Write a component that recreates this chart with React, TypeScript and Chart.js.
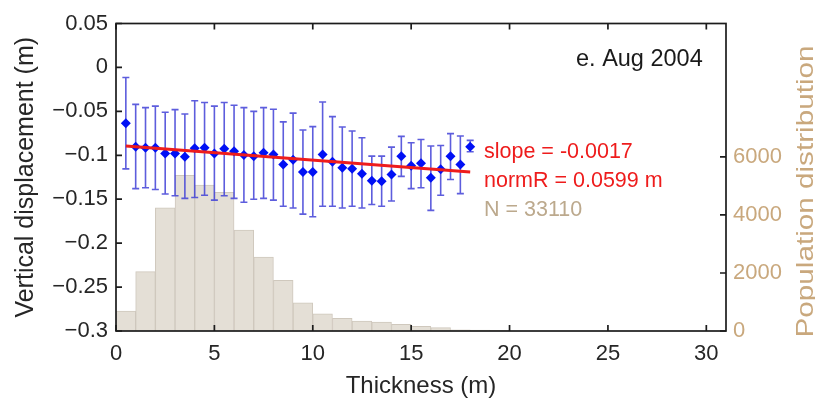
import React, { useEffect, useRef } from 'react';
import { Chart, registerables } from 'chart.js';

Chart.register(...registerables);

// ---- data ----
const thickness = [
  0.5, 1.0, 1.5, 2.0, 2.5, 3.0, 3.5, 4.0, 4.5, 5.0, 5.5, 6.0,
  6.5, 7.0, 7.5, 8.0, 8.5, 9.0, 9.5, 10.0, 10.5, 11.0, 11.5, 12.0,
  12.5, 13.0, 13.5, 14.0, 14.5, 15.0, 15.5, 16.0, 16.5, 17.0, 17.5, 18.0,
];
const meanDisp = [
  -0.0636, -0.0903, -0.0914, -0.0914, -0.098, -0.098, -0.1017, -0.092, -0.0914, -0.098, -0.0926, -0.0953,
  -0.0998, -0.101, -0.097, -0.099, -0.1105, -0.105, -0.119, -0.119, -0.099, -0.1074, -0.1143, -0.1154,
  -0.121, -0.129, -0.1295, -0.122, -0.101, -0.112, -0.109, -0.1257, -0.116, -0.101, -0.1105, -0.0903,
];
const upperDisp = [
  -0.0114, -0.042, -0.0457, -0.044, -0.051, -0.048, -0.053, -0.038, -0.04, -0.044, -0.04, -0.043,
  -0.0457, -0.05, -0.0457, -0.0476, -0.062, -0.052, -0.0712, -0.0674, -0.0393, -0.056, -0.0678, -0.0724,
  -0.08, -0.101, -0.101, -0.0907, -0.0785, -0.0857, -0.082, -0.0895, -0.0888, -0.0754, -0.078, -0.083,
];
const lowerDisp = [
  -0.1155, -0.138, -0.137, -0.139, -0.144, -0.146, -0.149, -0.148, -0.1455, -0.151, -0.146, -0.149,
  -0.1535, -0.15, -0.149, -0.151, -0.158, -0.16, -0.167, -0.17, -0.158, -0.158, -0.16, -0.158,
  -0.16, -0.156, -0.158, -0.152, -0.124, -0.138, -0.137, -0.1627, -0.1455, -0.1276, -0.1436, -0.096,
];
const binCenters = [
  0.5, 1.5, 2.5, 3.5, 4.5, 5.5, 6.5, 7.5, 8.5, 9.5,
  10.5, 11.5, 12.5, 13.5, 14.5, 15.5, 16.5, 17.5, 18.5, 19.5,
];
const binCounts = [
  690, 2045, 4250, 5370, 5030, 4780, 3480, 2550, 1750, 975,
  590, 440, 345, 310, 230, 160, 115, 40, 30, 20,
];
const fitX = [0.5, 18];
const fitY = [-0.0895, -0.1189];

const xTicks = [0, 5, 10, 15, 20, 25, 30];
const yTicks = [-0.3, -0.25, -0.2, -0.15, -0.1, -0.05, 0, 0.05];
const yTickLabels = ['\u22120.3', '\u22120.25', '\u22120.2', '\u22120.15', '\u22120.1', '\u22120.05', '0', '0.05'];
const popTicks = [0, 2000, 4000, 6000];

const panelLabel = 'e. Aug 2004';
const slopeText = 'slope = -0.0017';
const normText = 'normR = 0.0599 m';
const countText = 'N = 33110';

const FONT = '"Liberation Sans", Arial, sans-serif';
const TAN = '#c9a87d';
const RED = '#ee1c1c';

const overlayPlugin = {
  id: 'overlay',
  beforeDatasetDraw(chart: any, args: any) {
    if (args.index !== 1) return;
    const { ctx } = chart;
    const xs = chart.scales.x;
    const ys = chart.scales.y;
    ctx.save();
    ctx.strokeStyle = 'rgba(65,65,215,0.85)';
    ctx.lineWidth = 1.6;
    thickness.forEach((t, i) => {
      const px = xs.getPixelForValue(t);
      const pTop = ys.getPixelForValue(upperDisp[i]);
      const pBot = ys.getPixelForValue(lowerDisp[i]);
      ctx.beginPath();
      ctx.moveTo(px, pTop);
      ctx.lineTo(px, pBot);
      ctx.moveTo(px - 3.5, pTop);
      ctx.lineTo(px + 3.5, pTop);
      ctx.moveTo(px - 3.5, pBot);
      ctx.lineTo(px + 3.5, pBot);
      ctx.stroke();
    });
    ctx.restore();
  },
  afterDraw(chart: any) {
    const { ctx, chartArea } = chart;
    const { left, right, top, bottom } = chartArea;
    const xs = chart.scales.x;
    const ys = chart.scales.y;
    const y2 = chart.scales.y2;
    ctx.save();
    ctx.strokeStyle = '#1c1c1c';
    ctx.lineWidth = 1.7;
    ctx.strokeRect(left, top, right - left, bottom - top);
    ctx.beginPath();
    xTicks.forEach((v) => {
      const p = xs.getPixelForValue(v);
      ctx.moveTo(p, bottom);
      ctx.lineTo(p, bottom - 6);
      ctx.moveTo(p, top);
      ctx.lineTo(p, top + 6);
    });
    yTicks.forEach((v) => {
      const p = ys.getPixelForValue(v);
      ctx.moveTo(left, p);
      ctx.lineTo(left + 6, p);
    });
    popTicks.forEach((v) => {
      const p = y2.getPixelForValue(v);
      ctx.moveTo(right, p);
      ctx.lineTo(right - 6, p);
    });
    ctx.stroke();

    // annotations
    ctx.textBaseline = 'middle';
    ctx.textAlign = 'left';
    ctx.fillStyle = '#1a1a1a';
    ctx.font = `23.5px ${FONT}`;
    ctx.fillText(panelLabel, 576, 60);
    ctx.font = `21.5px ${FONT}`;
    ctx.fillStyle = RED;
    ctx.fillText(slopeText, 484, 152);
    ctx.fillText(normText, 484, 181);
    ctx.fillStyle = '#bca98d';
    ctx.fillText(countText, 484, 210);

    // right axis title (reads bottom to top)
    ctx.save();
    ctx.translate(813, 191.5);
    ctx.rotate(-Math.PI / 2);
    ctx.font = `24px ${FONT}`;
    const w = ctx.measureText('Population distribution').width;
    ctx.scale(292 / w, 1);
    ctx.textAlign = 'center';
    ctx.textBaseline = 'alphabetic';
    ctx.fillStyle = TAN;
    ctx.fillText('Population distribution', 0, 0);
    ctx.restore();
    ctx.restore();
  },
};

export default function App() {
  const ref = useRef<HTMLCanvasElement | null>(null);
  useEffect(() => {
    if (!ref.current) return;
    const chart = new Chart(ref.current, {
      type: 'scatter',
      data: {
        datasets: [
          {
            type: 'bar',
            label: 'Population',
            data: binCenters.map((c, i) => ({ x: c, y: binCounts[i] })),
            xAxisID: 'x',
            yAxisID: 'y2',
            backgroundColor: '#e4dfd6',
            borderColor: '#cfc8bd',
            borderWidth: 1,
            barPercentage: 1,
            categoryPercentage: 1,
            order: 4,
          } as any,
          {
            type: 'scatter',
            label: 'Mean displacement',
            data: thickness.map((t, i) => ({ x: t, y: meanDisp[i] })),
            xAxisID: 'x',
            yAxisID: 'y',
            pointStyle: 'rectRot',
            pointRadius: 5,
            backgroundColor: '#0010f5',
            borderColor: '#0010f5',
            borderWidth: 0,
            order: 2,
          },
          {
            type: 'line',
            label: 'Fit',
            data: fitX.map((x, i) => ({ x, y: fitY[i] })),
            xAxisID: 'x',
            yAxisID: 'y',
            borderColor: RED,
            borderWidth: 3,
            pointRadius: 0,
            fill: false,
            order: 1,
          },
        ],
      },
      options: {
        animation: false,
        responsive: false,
        layout: { padding: { top: 23.5, left: 0, right: 0, bottom: 0 } },
        plugins: { legend: { display: false }, tooltip: { enabled: false } },
        scales: {
          x: {
            type: 'linear',
            position: 'bottom',
            min: 0,
            max: 31,
            offset: false,
            grid: { display: false, drawTicks: false },
            border: { display: false },
            afterBuildTicks: (s: any) => {
              s.ticks = xTicks.map((v) => ({ value: v }));
            },
            afterFit: (s: any) => {
              s.height = 70;
            },
            ticks: {
              padding: 10,
              maxRotation: 0,
              autoSkip: false,
              color: '#262626',
              font: { family: FONT, size: 22 },
              callback: (v: any) => String(v),
            },
            title: {
              display: true,
              text: 'Thickness (m)',
              color: '#262626',
              font: { family: FONT, size: 24 },
              padding: { top: 0, bottom: 0 },
            },
          },
          y: {
            type: 'linear',
            position: 'left',
            min: -0.3,
            max: 0.05,
            grid: { display: false, drawTicks: false },
            border: { display: false },
            afterBuildTicks: (s: any) => {
              s.ticks = yTicks.map((v) => ({ value: v }));
            },
            afterFit: (s: any) => {
              s.width = 116;
            },
            ticks: {
              padding: 8,
              autoSkip: false,
              color: '#262626',
              font: { family: FONT, size: 22 },
              callback: (_v: any, i: number) => yTickLabels[i],
            },
            title: {
              display: true,
              text: 'Vertical displacement (m)',
              color: '#262626',
              font: { family: FONT, size: 25 },
              padding: { top: 11, bottom: 0 },
            },
          },
          y2: {
            type: 'linear',
            position: 'right',
            min: 0,
            max: 10600,
            grid: { display: false, drawTicks: false },
            border: { display: false },
            afterBuildTicks: (s: any) => {
              s.ticks = popTicks.map((v) => ({ value: v }));
            },
            afterFit: (s: any) => {
              s.width = 89;
            },
            ticks: {
              padding: 7,
              autoSkip: false,
              color: TAN,
              font: { family: FONT, size: 22 },
              callback: (v: any) => String(v),
            },
          },
        },
      },
      plugins: [overlayPlugin],
    });
    return () => chart.destroy();
  }, []);

  return (
    <div style={{ position: 'fixed', left: 0, top: 0, width: 815, height: 401, background: '#fff' }}>
      <canvas ref={ref} width={815} height={401} style={{ display: 'block', width: 815, height: 401 }} />
    </div>
  );
}
